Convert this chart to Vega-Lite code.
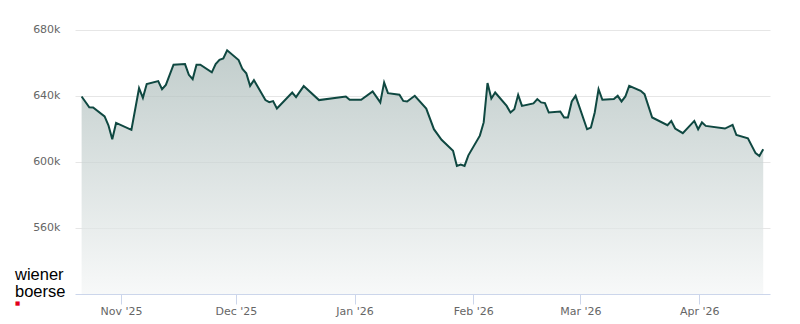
{
  "$schema": "https://vega.github.io/schema/vega-lite/v6.json",
  "width": 695,
  "height": 281,
  "autosize": {"type": "none"},
  "padding": {"left": 75, "top": 13, "right": 30, "bottom": 30},
  "background": "#ffffff",
  "config": {"view": {"stroke": null}},
  "title": {
    "text": ["wiener", "boerse"],
    "subtitle": "■",
    "orient": "bottom",
    "anchor": "start",
    "frame": "group",
    "font": "Liberation Sans",
    "fontSize": 16.5,
    "fontWeight": "normal",
    "color": "#000000",
    "lineHeight": 17,
    "offset": 0,
    "dx": -60,
    "dy": -49,
    "subtitleFont": "DejaVu Sans",
    "subtitleFontSize": 5.5,
    "subtitleColor": "#e2001a",
    "subtitlePadding": 0
  },
  "data": {
    "values": [
      {"date": "2025-10-21T17:30", "value": 639500},
      {"date": "2025-10-23T17:30", "value": 633000},
      {"date": "2025-10-24T17:30", "value": 632800},
      {"date": "2025-10-27T17:30", "value": 627400},
      {"date": "2025-10-28T17:30", "value": 622100},
      {"date": "2025-10-29T17:30", "value": 613600},
      {"date": "2025-10-30T17:30", "value": 623500},
      {"date": "2025-11-03T17:30", "value": 619300},
      {"date": "2025-11-05T17:30", "value": 644500},
      {"date": "2025-11-06T17:30", "value": 638700},
      {"date": "2025-11-07T17:30", "value": 647000},
      {"date": "2025-11-10T17:30", "value": 648800},
      {"date": "2025-11-11T17:30", "value": 643900},
      {"date": "2025-11-12T17:30", "value": 646500},
      {"date": "2025-11-14T17:30", "value": 658700},
      {"date": "2025-11-17T17:30", "value": 659100},
      {"date": "2025-11-18T17:30", "value": 652600},
      {"date": "2025-11-19T17:30", "value": 650000},
      {"date": "2025-11-20T17:30", "value": 658700},
      {"date": "2025-11-21T17:30", "value": 658700},
      {"date": "2025-11-24T17:30", "value": 654100},
      {"date": "2025-11-25T17:30", "value": 659100},
      {"date": "2025-11-26T17:30", "value": 661700},
      {"date": "2025-11-27T17:30", "value": 662500},
      {"date": "2025-11-28T17:30", "value": 667400},
      {"date": "2025-12-01T17:30", "value": 661500},
      {"date": "2025-12-02T17:30", "value": 656100},
      {"date": "2025-12-03T17:30", "value": 653500},
      {"date": "2025-12-04T17:30", "value": 645900},
      {"date": "2025-12-05T17:30", "value": 649400},
      {"date": "2025-12-08T17:30", "value": 637300},
      {"date": "2025-12-09T17:30", "value": 636100},
      {"date": "2025-12-10T17:30", "value": 636700},
      {"date": "2025-12-11T17:30", "value": 632200},
      {"date": "2025-12-15T17:30", "value": 641900},
      {"date": "2025-12-16T17:30", "value": 639100},
      {"date": "2025-12-18T17:30", "value": 645800},
      {"date": "2025-12-22T17:30", "value": 637300},
      {"date": "2025-12-29T17:30", "value": 639500},
      {"date": "2025-12-30T17:30", "value": 637500},
      {"date": "2026-01-02T17:30", "value": 637500},
      {"date": "2026-01-05T17:30", "value": 642500},
      {"date": "2026-01-07T17:30", "value": 635900},
      {"date": "2026-01-08T17:30", "value": 648000},
      {"date": "2026-01-09T17:30", "value": 641500},
      {"date": "2026-01-12T17:30", "value": 640600},
      {"date": "2026-01-13T17:30", "value": 636800},
      {"date": "2026-01-14T17:30", "value": 636500},
      {"date": "2026-01-16T17:30", "value": 639900},
      {"date": "2026-01-19T17:30", "value": 632200},
      {"date": "2026-01-21T17:30", "value": 619700},
      {"date": "2026-01-23T17:30", "value": 613300},
      {"date": "2026-01-26T17:30", "value": 606700},
      {"date": "2026-01-27T17:30", "value": 597500},
      {"date": "2026-01-28T17:30", "value": 598300},
      {"date": "2026-01-29T17:30", "value": 597500},
      {"date": "2026-01-30T17:30", "value": 603900},
      {"date": "2026-02-02T17:30", "value": 615800},
      {"date": "2026-02-03T17:30", "value": 623800},
      {"date": "2026-02-04T17:30", "value": 647600},
      {"date": "2026-02-05T17:30", "value": 638300},
      {"date": "2026-02-06T17:30", "value": 641900},
      {"date": "2026-02-09T17:30", "value": 633800},
      {"date": "2026-02-10T17:30", "value": 629800},
      {"date": "2026-02-11T17:30", "value": 631800},
      {"date": "2026-02-12T17:30", "value": 640500},
      {"date": "2026-02-13T17:30", "value": 633800},
      {"date": "2026-02-16T17:30", "value": 635300},
      {"date": "2026-02-17T17:30", "value": 637900},
      {"date": "2026-02-18T17:30", "value": 635900},
      {"date": "2026-02-19T17:30", "value": 635500},
      {"date": "2026-02-20T17:30", "value": 629800},
      {"date": "2026-02-23T17:30", "value": 630400},
      {"date": "2026-02-24T17:30", "value": 626800},
      {"date": "2026-02-25T17:30", "value": 626800},
      {"date": "2026-02-26T17:30", "value": 636500},
      {"date": "2026-02-27T17:30", "value": 639900},
      {"date": "2026-03-02T17:30", "value": 619700},
      {"date": "2026-03-03T17:30", "value": 620700},
      {"date": "2026-03-04T17:30", "value": 629800},
      {"date": "2026-03-05T17:30", "value": 643900},
      {"date": "2026-03-06T17:30", "value": 637500},
      {"date": "2026-03-09T17:30", "value": 637900},
      {"date": "2026-03-10T17:30", "value": 639900},
      {"date": "2026-03-11T17:30", "value": 636500},
      {"date": "2026-03-12T17:30", "value": 639500},
      {"date": "2026-03-13T17:30", "value": 645900},
      {"date": "2026-03-16T17:30", "value": 642900},
      {"date": "2026-03-17T17:30", "value": 640900},
      {"date": "2026-03-19T17:30", "value": 626800},
      {"date": "2026-03-23T17:30", "value": 622100},
      {"date": "2026-03-24T17:30", "value": 624700},
      {"date": "2026-03-25T17:30", "value": 620100},
      {"date": "2026-03-27T17:30", "value": 617300},
      {"date": "2026-03-30T17:30", "value": 624700},
      {"date": "2026-03-31T17:30", "value": 619700},
      {"date": "2026-04-01T17:30", "value": 623800},
      {"date": "2026-04-02T17:30", "value": 621700},
      {"date": "2026-04-07T17:30", "value": 620100},
      {"date": "2026-04-09T17:30", "value": 622300},
      {"date": "2026-04-10T17:30", "value": 616200},
      {"date": "2026-04-13T17:30", "value": 614200},
      {"date": "2026-04-15T17:30", "value": 605200},
      {"date": "2026-04-16T17:30", "value": 603500},
      {"date": "2026-04-17T17:30", "value": 607600}
    ]
  },
  "mark": {
    "type": "area",
    "line": {"color": "#0f4841", "strokeWidth": 2},
    "color": {
      "gradient": "linear",
      "x1": 0, "y1": 0, "x2": 0, "y2": 1,
      "stops": [
        {"offset": 0, "color": "#a7b8b6"},
        {"offset": 1, "color": "#f4f6f6"}
      ]
    }
  },
  "encoding": {
    "x": {
      "field": "date",
      "type": "temporal",
      "scale": {"domain": ["2025-10-20T00:00", "2026-04-19T12:00"]},
      "axis": {
        "title": null,
        "format": "%b '%y",
        "tickCount": {"interval": "month", "step": 1},
        "grid": false,
        "domainColor": "#ccd6eb",
        "tickColor": "#ccd6eb",
        "tickSize": 10,
        "labelPadding": 1,
        "labelColor": "#666666",
        "labelFont": "DejaVu Sans",
        "labelFontSize": 11,
        "labelFlush": false
      }
    },
    "y": {
      "field": "value",
      "type": "quantitative",
      "scale": {"domain": [520000, 690000], "zero": false, "nice": false},
      "axis": {
        "title": null,
        "values": [560000, 600000, 640000, 680000],
        "format": "~s",
        "domain": false,
        "ticks": false,
        "gridColor": "#e6e6e6",
        "labelPadding": 15,
        "labelColor": "#666666",
        "labelFont": "DejaVu Sans",
        "labelFontSize": 11
      }
    },
    "y2": {"datum": 520000}
  }
}
